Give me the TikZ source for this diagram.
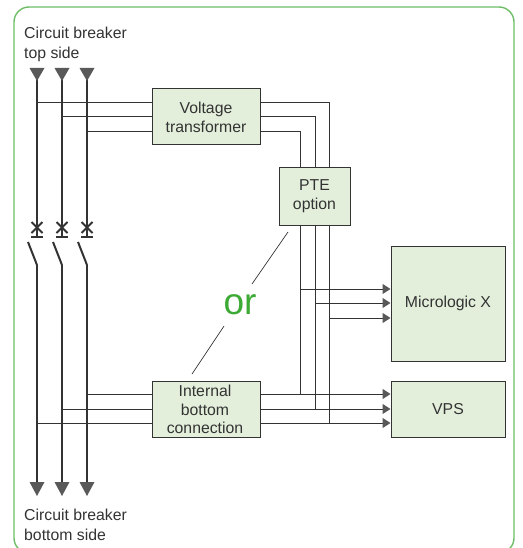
\documentclass[tikz,border=0pt]{standalone}
\usepackage{fontspec}
\setmainfont{Liberation Sans}
\usetikzlibrary{arrows.meta}
\definecolor{frameg}{HTML}{6CBF66}
\definecolor{boxfill}{HTML}{E3EFDB}
\definecolor{ortxt}{HTML}{3DAA35}
\definecolor{inkc}{HTML}{333333}
\definecolor{tipc}{HTML}{595959}
\tikzset{
  x=1pt,y=-1pt,
  block/.style={draw=inkc,line width=1pt,fill=boxfill,inner sep=0pt,text=inkc,align=center,font=\fontsize{15.8}{19}\selectfont},
  lbl/.style={inner sep=0pt,anchor=north west,align=left,text=inkc,font=\fontsize{15.8}{20}\selectfont},
  wire/.style={draw=inkc,line width=1pt},
  arrowwire/.style={wire,-{Triangle[length=8pt,width=10pt,fill=tipc,color=tipc]}},
  phase/.style={draw=inkc,line width=2pt},
  tipmark/.style={fill=tipc,draw=none},
  orline/.style={draw=inkc,line width=0.7pt},
}
\begin{document}
\begin{tikzpicture}
\useasboundingbox (0,0) rectangle (522,548);
\begin{scope}
\clip (0,0) rectangle (522,548);
\draw[frameg,line width=1.4pt,rounded corners=15pt] (14,7) rectangle (514,553);
\end{scope}
\coordinate (t1) at (37,75);\coordinate (t2) at (62,75);\coordinate (t3) at (87,75);
\coordinate (m1) at (37,237);\coordinate (m2) at (62,237);\coordinate (m3) at (87,237);
\coordinate (k1) at (37,265);\coordinate (k2) at (62,265);\coordinate (k3) at (87,265);
\coordinate (b1) at (37,484);\coordinate (b2) at (62,484);\coordinate (b3) at (87,484);
\node[block,minimum width=108pt,minimum height=56pt] (vt) at (206,117) {Voltage\\transformer};
\node[block,minimum width=71pt,minimum height=57pt] (pte) at (314.5,196.5) {PTE\\option};
\node[block,minimum width=108pt,minimum height=56pt] (ibc) at (206,409) {};
\node[block,minimum width=114pt,minimum height=115pt] (mx) at (448,303.5) {Micrologic X};
\node[block,minimum width=114pt,minimum height=56pt] (vps) at (448,409) {VPS};
\draw[wire] (37,103) -- (vt.west |- 0,103);
\draw[wire] (62,117) -- (vt.west |- 0,117);
\draw[wire] (87,132) -- (vt.west |- 0,132);
\draw[wire] (87,394) -- (ibc.west |- 0,394);
\draw[wire] (62,409) -- (ibc.west |- 0,409);
\draw[wire] (37,423) -- (ibc.west |- 0,423);
\draw[wire] (vt.east |- 0,103) -- (329,103) -- (329,168);
\draw[wire] (vt.east |- 0,117) -- (315,117) -- (315,168);
\draw[wire] (vt.east |- 0,132) -- (300,132) -- (300,168);
\draw[wire] (300,225) -- (300,394);
\draw[wire] (315,225) -- (315,409);
\draw[wire] (329,225) -- (329,423);
\draw[arrowwire] (300,289) -- (mx.west |- 0,289);
\draw[arrowwire] (315,303) -- (mx.west |- 0,303);
\draw[arrowwire] (329,318) -- (mx.west |- 0,318);
\draw[arrowwire] (ibc.east |- 0,394) -- (vps.west |- 0,394);
\draw[arrowwire] (ibc.east |- 0,409) -- (vps.west |- 0,409);
\draw[arrowwire] (ibc.east |- 0,423) -- (vps.west |- 0,423);
\node[inner sep=0pt,text=inkc,align=center,font=\fontsize{15.8}{18.5}\selectfont] (ibct) at (205,409.5) {Internal\\bottom\\connection};
\foreach \i in {1,2,3}{
  \draw[phase] (t\i) -- (m\i);
  \draw[phase] (k\i) -- (b\i);
  \draw[phase] ([xshift=-9pt,yshift=23pt]k\i) -- (k\i);
  \draw[phase] ([xshift=-6pt]m\i) -- ([xshift=6pt]m\i);
  \draw[phase] ([xshift=-5.5pt,yshift=15pt]m\i) -- ([xshift=5.5pt,yshift=4pt]m\i);
  \draw[phase] ([xshift=5.5pt,yshift=15pt]m\i) -- ([xshift=-5.5pt,yshift=4pt]m\i);
  \fill[tipmark] ([xshift=-7.5pt,yshift=7pt]t\i) -- ([xshift=7.5pt,yshift=7pt]t\i) -- ([yshift=-6pt]t\i) -- cycle;
  \fill[tipmark] ([xshift=-7.5pt,yshift=2pt]b\i) -- ([xshift=7.5pt,yshift=2pt]b\i) -- ([yshift=-12pt]b\i) -- cycle;
}
\node[lbl] (top) at (24,27) {Circuit breaker\\top side};
\node[lbl] (bot) at (24,509) {Circuit breaker\\bottom side};
\node[inner sep=0pt,text=ortxt,font=\fontsize{37}{40}\selectfont] (or) at (240,304.5) {or};
\coordinate (o1a) at (288,232);\coordinate (o1b) at (252,284);
\coordinate (o2a) at (224,326);\coordinate (o2b) at (192,374);
\draw[orline] (o1a) -- (o1b);
\draw[orline] (o2a) -- (o2b);
\end{tikzpicture}
\end{document}
